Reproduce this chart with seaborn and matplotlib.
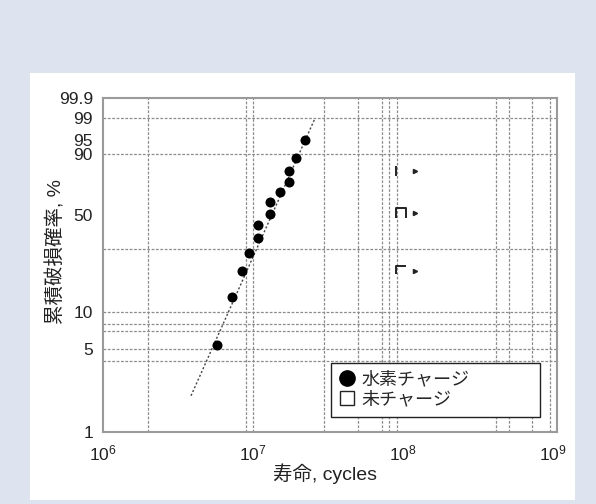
import numpy as np
import matplotlib
matplotlib.use("Agg")
import matplotlib.pyplot as plt
from matplotlib.path import Path
from matplotlib.lines import Line2D
from matplotlib.patches import Rectangle
from matplotlib.ticker import FixedLocator, FixedFormatter, NullFormatter
import seaborn as sns

# ---------------- data ----------------
h2_life = [5.81e6, 7.31e6, 8.45e6, 9.49e6, 1.085e7, 1.09e7, 1.30e7, 1.30e7,
           1.52e7, 1.74e7, 1.74e7, 1.94e7, 2.22e7]
h2_prob = [5.4, 13.1, 21.0, 28.5, 36.2, 43.6, 51.3, 59.1, 66.4, 73.9, 81.1, 88.3, 95.2]

unch_life = [9.75e7, 9.75e7, 9.75e7]
unch_prob = [80.9, 51.7, 20.9]
runout_life = [1.21e8, 1.21e8, 1.21e8]
runout_prob = [80.9, 51.7, 20.9]

fit_life = [3.88e6, 2.6e7]
fit_prob = [2.03, 99.0]

x_major = [1e6, 1e7, 1e8, 1e9]
x_major_labels = ["$10^{6}$", "$10^{7}$", "$10^{8}$", "$10^{9}$"]
x_grid = [2e6, 9e6, 1e7, 3e7, 5e7, 7.25e7, 8.1e7, 9.1e7, 4.2e8, 5.15e8, 7.3e8, 9.6e8]

y_major = [1, 5, 10, 50, 90, 95, 99, 99.9]
y_major_labels = ["1", "5", "10", "50", "90", "95", "99", "99.9"]
y_grid = [4, 5, 7, 8, 10, 30, 90, 99]

legend_labels = ["水素チャージ", "未チャージ"]
xlabel = "寿命, cycles"
ylabel = "累積破損確率, %"

# ---------------- style ----------------
sns.set_style("white")
plt.rcParams["font.family"] = ["Liberation Sans", "Noto Sans CJK JP", "DejaVu Sans"]
plt.rcParams["mathtext.fontset"] = "custom"
plt.rcParams["mathtext.rm"] = "Liberation Sans"
plt.rcParams["mathtext.it"] = "Liberation Sans"
plt.rcParams["mathtext.default"] = "regular"

BG = "#dde4ef"
fig = plt.figure(figsize=(5.96, 5.04), dpi=100, facecolor=BG)
panel = Rectangle((30 / 596, 4 / 504), 545 / 596, 427 / 504,
                  transform=fig.transFigure, facecolor="white",
                  edgecolor="none", zorder=-10)
fig.add_artist(panel)
ax = fig.add_axes([102.7 / 596, 71.7 / 504, 454 / 596, 334.6 / 504])
ax.set_facecolor("white")


def fwd(p):
    p = np.clip(np.asarray(p, dtype=float), 1e-6, 100 - 1e-9)
    return np.log(-np.log(1 - p / 100.0))


def inv(y):
    return 100.0 * (1 - np.exp(-np.exp(np.asarray(y, dtype=float))))


ax.set_xscale("log")
ax.set_yscale("function", functions=(fwd, inv))
ax.set_xlim(1e6, 1.064e9)
ax.set_ylim(1, 99.9)

# ticks / grid
ax.xaxis.remove_overlapping_locs = False
ax.yaxis.remove_overlapping_locs = False
ax.xaxis.set_major_locator(FixedLocator(x_major))
ax.xaxis.set_major_formatter(FixedFormatter(x_major_labels))
ax.xaxis.set_minor_locator(FixedLocator(x_grid))
ax.xaxis.set_minor_formatter(NullFormatter())
ax.yaxis.set_major_locator(FixedLocator(y_major))
ax.yaxis.set_major_formatter(FixedFormatter(y_major_labels))
ax.yaxis.set_minor_locator(FixedLocator(y_grid))
ax.yaxis.set_minor_formatter(NullFormatter())
ax.tick_params(which="both", length=0)
ax.tick_params(axis="y", pad=7, labelsize=12.5, labelcolor="#222222")
ax.tick_params(axis="x", pad=8, labelsize=12.5, labelcolor="#222222")
ax.grid(False, which="major")
ax.grid(True, which="minor", color="#8c8c8c", linewidth=0.9,
        linestyle=(0, (2.2, 1.3)))

for s in ax.spines.values():
    s.set_color("#9a9a9a")
    s.set_linewidth(1.5)

# fit line
ax.plot(fit_life, fit_prob, color="#444444", linewidth=1.0,
        linestyle=(0, (1.5, 1.5)), zorder=2)

# hydrogen-charged failures
sns.scatterplot(x=h2_life, y=h2_prob, ax=ax, color="black", marker="o",
                s=52, linewidth=0, legend=False, zorder=3)

# uncharged (partially rendered open squares) and run-out arrows
partial_markers = [
    Path([(-1, 1), (-1, -1)], [Path.MOVETO, Path.LINETO]),
    Path([(-1, -1), (-1, 1), (1, 1), (1, -1)],
         [Path.MOVETO, Path.LINETO, Path.LINETO, Path.LINETO]),
    Path([(-1, -0.6), (-1, 1), (1, 1)],
         [Path.MOVETO, Path.LINETO, Path.LINETO]),
]
for xv, yv, mk in zip(unch_life, unch_prob, partial_markers):
    ax.plot([xv], [yv], marker=mk, markersize=7.5, color="#222222",
            markeredgewidth=1.4, fillstyle="none", linestyle="none", zorder=3)
ax.plot(runout_life, runout_prob, marker=">", markersize=3, color="#222222",
        linestyle="none", zorder=3)

# labels
ax.set_xlabel(xlabel, fontsize=14, color="#222222")
ax.set_ylabel(ylabel, fontsize=14, color="#222222")
ax.xaxis.set_label_coords(0.49, -0.094)
ax.yaxis.set_label_coords(-0.082, 0.54)

# legend
handles = [
    Line2D([], [], marker="o", color="black", markersize=11, linestyle="none"),
    Line2D([], [], marker="s", markerfacecolor="white", markeredgecolor="#222222",
           markeredgewidth=1.0, markersize=10.5, linestyle="none"),
]
leg = ax.legend(handles, legend_labels, loc="lower left",
                bbox_to_anchor=(0.502, 0.0466, 0.461, 0.169), mode="expand",
                borderaxespad=0, fontsize=13, frameon=True, fancybox=False,
                handlelength=0.9, handletextpad=0.35, borderpad=0.45,
                labelspacing=0.2, framealpha=1)
leg.get_frame().set_edgecolor("#222222")
leg.get_frame().set_linewidth(1.0)

fig.savefig("out.png", dpi=100, facecolor=BG)
